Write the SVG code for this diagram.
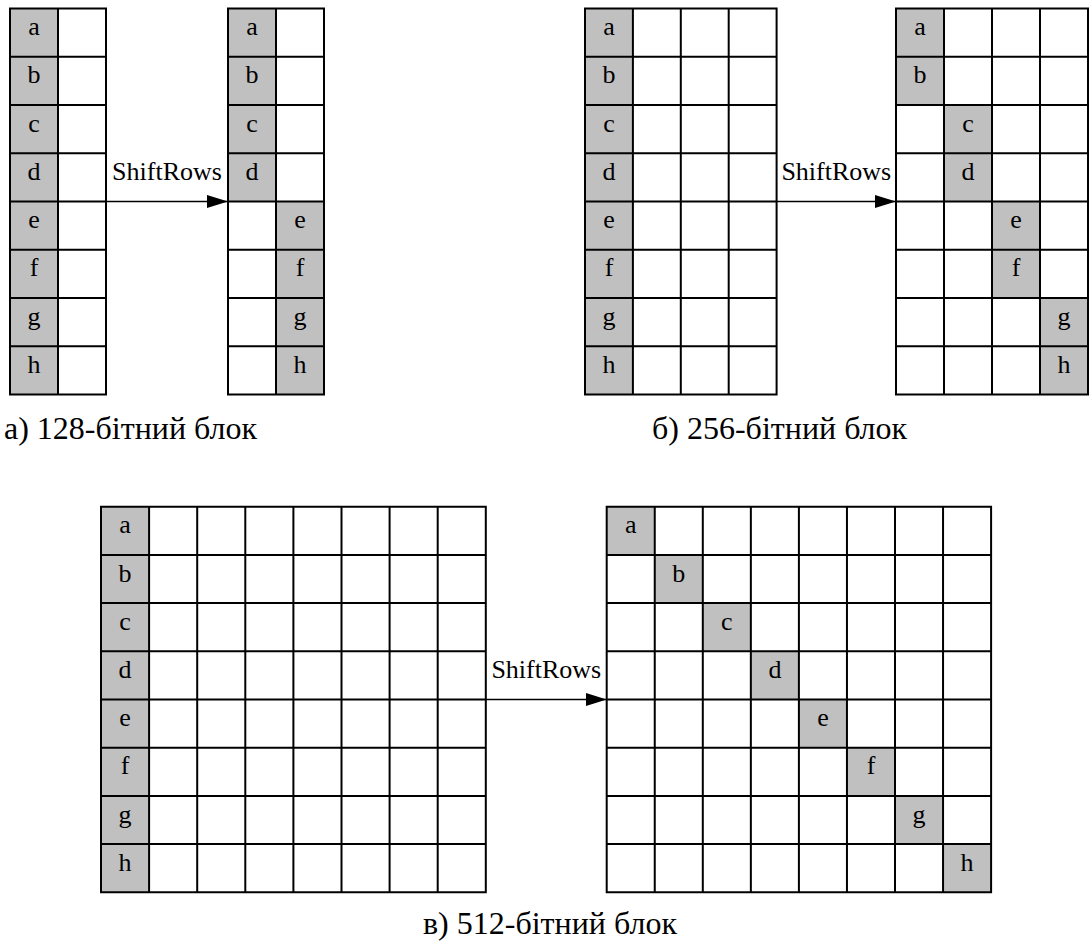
<svg xmlns="http://www.w3.org/2000/svg" width="1089" height="942" viewBox="0 0 1089 942">
<defs>
<style>
.cell{fill:#ffffff;stroke:none}
.sh{fill:#c0c0c0;stroke:none}
.gl{fill:none;stroke:#000;stroke-width:2}
.lt{font-family:"Liberation Serif","Times New Roman",serif;font-size:26px;fill:#000;text-anchor:middle}
.cap{font-family:"Liberation Serif","Times New Roman",serif;font-size:32px;fill:#000}
.conn{stroke:#000;stroke-width:1.5;fill:none}
</style>
<marker id="ah" markerUnits="userSpaceOnUse" markerWidth="22" markerHeight="14" refX="21" refY="7" orient="auto">
<path d="M0,0.5 L21,7 L0,13.5 Z" fill="#000"/>
</marker>
</defs>
<rect width="1089" height="942" fill="#fff"/>

<!-- 128 input -->
<g id="grid128-in">
<rect class="cell" x="10" y="8.5" width="96" height="386"/>
<rect class="sh" x="10" y="8.5" width="48" height="386"/>
<path class="gl" d="M10,8.5H106V394.5H10Z M58,8.5V394.5 M10,56.75H106 M10,105H106 M10,153.25H106 M10,201.5H106 M10,249.75H106 M10,298H106 M10,346.25H106"/>
<text class="lt" x="34" y="35">a</text>
<text class="lt" x="34" y="83.25">b</text>
<text class="lt" x="34" y="131.5">c</text>
<text class="lt" x="34" y="179.75">d</text>
<text class="lt" x="34" y="228">e</text>
<text class="lt" x="34" y="276.25">f</text>
<text class="lt" x="34" y="324.5">g</text>
<text class="lt" x="34" y="372.75">h</text>
</g>

<!-- 128 output -->
<g id="grid128-out">
<rect class="cell" x="228" y="8.5" width="96" height="386"/>
<rect class="sh" x="228" y="8.5" width="48" height="193"/>
<rect class="sh" x="276" y="201.5" width="48" height="193"/>
<path class="gl" d="M228,8.5H324V394.5H228Z M276,8.5V394.5 M228,56.75H324 M228,105H324 M228,153.25H324 M228,201.5H324 M228,249.75H324 M228,298H324 M228,346.25H324"/>
<text class="lt" x="252" y="35">a</text>
<text class="lt" x="252" y="83.25">b</text>
<text class="lt" x="252" y="131.5">c</text>
<text class="lt" x="252" y="179.75">d</text>
<text class="lt" x="300" y="228">e</text>
<text class="lt" x="300" y="276.25">f</text>
<text class="lt" x="300" y="324.5">g</text>
<text class="lt" x="300" y="372.75">h</text>
</g>

<!-- 256 input -->
<g id="grid256-in">
<rect class="cell" x="585" y="8.5" width="191.6" height="386"/>
<rect class="sh" x="585" y="8.5" width="47.9" height="386"/>
<path class="gl" d="M585,8.5H776.6V394.5H585Z M632.9,8.5V394.5 M680.8,8.5V394.5 M728.7,8.5V394.5 M585,56.75H776.6 M585,105H776.6 M585,153.25H776.6 M585,201.5H776.6 M585,249.75H776.6 M585,298H776.6 M585,346.25H776.6"/>
<text class="lt" x="609" y="35">a</text>
<text class="lt" x="609" y="83.25">b</text>
<text class="lt" x="609" y="131.5">c</text>
<text class="lt" x="609" y="179.75">d</text>
<text class="lt" x="609" y="228">e</text>
<text class="lt" x="609" y="276.25">f</text>
<text class="lt" x="609" y="324.5">g</text>
<text class="lt" x="609" y="372.75">h</text>
</g>

<!-- 256 output -->
<g id="grid256-out">
<rect class="cell" x="896" y="8.5" width="192" height="386"/>
<rect class="sh" x="896" y="8.5" width="48" height="96.5"/>
<rect class="sh" x="944" y="105" width="48" height="96.5"/>
<rect class="sh" x="992" y="201.5" width="48" height="96.5"/>
<rect class="sh" x="1040" y="298" width="48" height="96.5"/>
<path class="gl" d="M896,8.5H1088V394.5H896Z M944,8.5V394.5 M992,8.5V394.5 M1040,8.5V394.5 M896,56.75H1088 M896,105H1088 M896,153.25H1088 M896,201.5H1088 M896,249.75H1088 M896,298H1088 M896,346.25H1088"/>
<text class="lt" x="920" y="35">a</text>
<text class="lt" x="920" y="83.25">b</text>
<text class="lt" x="968" y="131.5">c</text>
<text class="lt" x="968" y="179.75">d</text>
<text class="lt" x="1016" y="228">e</text>
<text class="lt" x="1016" y="276.25">f</text>
<text class="lt" x="1064" y="324.5">g</text>
<text class="lt" x="1064" y="372.75">h</text>
</g>

<!-- 512 input -->
<g id="grid512-in">
<rect class="cell" x="101" y="506.7" width="384.8" height="385.6"/>
<rect class="sh" x="101" y="506.7" width="48.1" height="385.6"/>
<path class="gl" d="M101,506.7H485.8V892.3H101Z M149.1,506.7V892.3 M197.2,506.7V892.3 M245.3,506.7V892.3 M293.4,506.7V892.3 M341.5,506.7V892.3 M389.6,506.7V892.3 M437.7,506.7V892.3 M101,554.9H485.8 M101,603.1H485.8 M101,651.3H485.8 M101,699.5H485.8 M101,747.7H485.8 M101,795.9H485.8 M101,844.1H485.8"/>
<text class="lt" x="125" y="533.3">a</text>
<text class="lt" x="125" y="581.5">b</text>
<text class="lt" x="125" y="629.7">c</text>
<text class="lt" x="125" y="677.9">d</text>
<text class="lt" x="125" y="726.1">e</text>
<text class="lt" x="125" y="774.3">f</text>
<text class="lt" x="125" y="822.5">g</text>
<text class="lt" x="125" y="870.7">h</text>
</g>

<!-- 512 output -->
<g id="grid512-out">
<rect class="cell" x="606.7" y="506.7" width="384.4" height="385.6"/>
<rect class="sh" x="606.7" y="506.7" width="48.05" height="48.2"/>
<rect class="sh" x="654.75" y="554.9" width="48.05" height="48.2"/>
<rect class="sh" x="702.8" y="603.1" width="48.05" height="48.2"/>
<rect class="sh" x="750.85" y="651.3" width="48.05" height="48.2"/>
<rect class="sh" x="798.9" y="699.5" width="48.05" height="48.2"/>
<rect class="sh" x="846.95" y="747.7" width="48.05" height="48.2"/>
<rect class="sh" x="895" y="795.9" width="48.05" height="48.2"/>
<rect class="sh" x="943.05" y="844.1" width="48.05" height="48.2"/>
<path class="gl" d="M606.7,506.7H991.1V892.3H606.7Z M654.75,506.7V892.3 M702.8,506.7V892.3 M750.85,506.7V892.3 M798.9,506.7V892.3 M846.95,506.7V892.3 M895,506.7V892.3 M943.05,506.7V892.3 M606.7,554.9H991.1 M606.7,603.1H991.1 M606.7,651.3H991.1 M606.7,699.5H991.1 M606.7,747.7H991.1 M606.7,795.9H991.1 M606.7,844.1H991.1"/>
<text class="lt" x="630.7" y="533.3">a</text>
<text class="lt" x="678.8" y="581.5">b</text>
<text class="lt" x="726.8" y="629.7">c</text>
<text class="lt" x="774.9" y="677.9">d</text>
<text class="lt" x="822.9" y="726.1">e</text>
<text class="lt" x="871" y="774.3">f</text>
<text class="lt" x="919" y="822.5">g</text>
<text class="lt" x="967.1" y="870.7">h</text>
</g>

<!-- connectors -->
<g id="connectors">
<line class="conn" x1="106" y1="201.5" x2="228" y2="201.5" marker-end="url(#ah)"/>
<line class="conn" x1="776.6" y1="201.5" x2="896" y2="201.5" marker-end="url(#ah)"/>
<line class="conn" x1="485.8" y1="699.5" x2="606.7" y2="699.5" marker-end="url(#ah)"/>
<text class="lt" x="167" y="180">ShiftRows</text>
<text class="lt" x="836.3" y="180">ShiftRows</text>
<text class="lt" x="546.3" y="678.3">ShiftRows</text>
</g>

<!-- captions -->
<g id="captions">
<text class="cap" x="4" y="438.5">а) 128-бітний блок</text>
<text class="cap" x="652" y="438.5">б) 256-бітний блок</text>
<text class="cap" x="423" y="934">в) 512-бітний блок</text>
</g>
</svg>
